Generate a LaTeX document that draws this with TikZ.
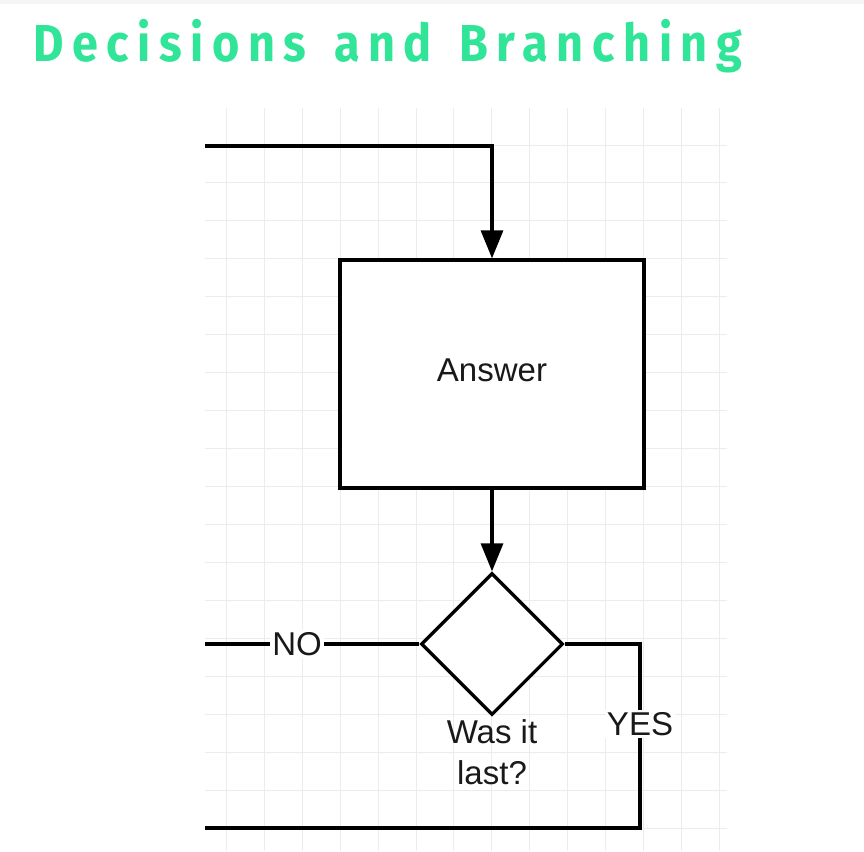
\documentclass[tikz,border=0pt]{standalone}
\usepackage{fontspec}
\setmainfont{Liberation Sans}
\newfontfamily\titlefont[FakeStretch=0.9,LetterSpace=16.5,WordSpace=1.4]{Fira Sans}
\usetikzlibrary{arrows.meta,shapes.geometric}
\definecolor{titlegreen}{RGB}{48,228,152}
\definecolor{gridgray}{RGB}{236,236,236}
\tikzset{
  gridline/.style={draw=gridgray,line width=1pt},
  flow/.style={draw=black,line width=3.3pt},
  arrowflow/.style={flow,-{Triangle[length=28pt,width=22pt]}},
  boxnode/.style={draw=black,line width=3.3pt,fill=white,minimum width=304pt,minimum height=228pt,inner sep=0pt},
  decnode/.style={draw=black,line width=3.3pt,fill=white,diamond,minimum width=142pt,minimum height=142pt,inner sep=0pt,aspect=1},
  txt/.style={font=\fontsize{33}{41}\selectfont,text=black!90,inner sep=1pt},
  lbl/.style={txt,fill=white,inner sep=2pt}
}
\begin{document}
\begin{tikzpicture}[x=1pt,y=-1pt]
\useasboundingbox (0,0) rectangle (864,851);
\fill[white] (0,0) rectangle (864,851);
\fill[gray!8] (0,0) rectangle (864,4);
% grid
\foreach \k in {0,...,13} {
  \draw[gridline] ({226.5+37.9*\k},108) -- ({226.5+37.9*\k},851);
}
\foreach \k in {0,...,18} {
  \draw[gridline] (205,{145+37.95*\k}) -- (727,{145+37.95*\k});
}
% title
\node[anchor=base west,inner sep=0pt,text=titlegreen,font=\titlefont\bfseries\fontsize{52}{60}\selectfont] (title) at (33,62) {Decisions and Branching};
% nodes
\node[boxnode] (ans) at (492,374) {};
\node[txt] (anstxt) at (492,370) {Answer};
\node[decnode] (dec) at (492,644) {};
\node[txt,align=center] (dectxt) at (492,752) {Was it\\last?};
\coordinate (topin) at (205,146);
\coordinate (noend) at (205,644);
\coordinate (yescorner) at (640,644);
\coordinate (yesbottom) at (640,828);
\coordinate (yesend) at (205,828);
% connectors
\draw[arrowflow] (topin) -| (ans.north);
\draw[arrowflow] (ans.south) -- (dec.north);
\draw[flow] (dec.west) -- (noend) node[lbl,pos=0.57] (nolbl) {NO};
\draw[flow] (dec.east) -- (yescorner) -- (yesbottom) -- (yesend);
\node[lbl] (yeslbl) at (640,724) {YES};
\end{tikzpicture}
\end{document}
